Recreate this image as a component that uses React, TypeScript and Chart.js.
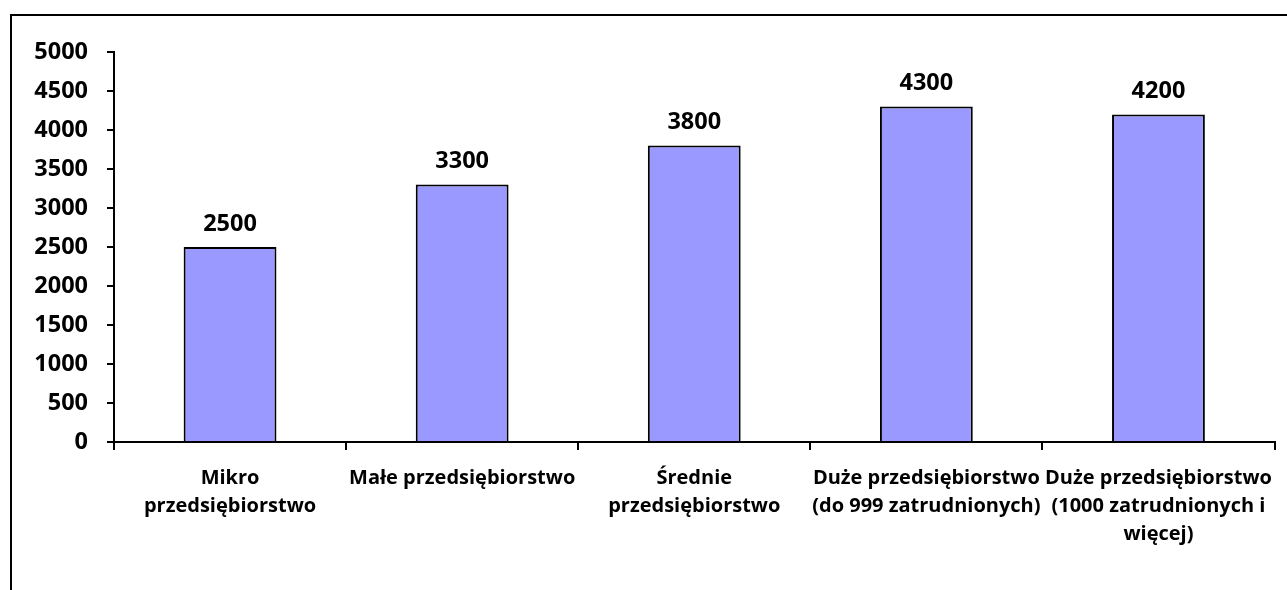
import React, { useEffect, useRef } from "react";
import { Chart, registerables } from "chart.js";

Chart.register(...registerables);

const categories: string[][] = [
  ["Mikro", "przedsiębiorstwo"],
  ["Małe przedsiębiorstwo"],
  ["Średnie", "przedsiębiorstwo"],
  ["Duże przedsiębiorstwo", "(do 999 zatrudnionych)"],
  ["Duże przedsiębiorstwo", "(1000 zatrudnionych i", "więcej)"],
];
const values: number[] = [2500, 3300, 3800, 4300, 4200];
const yTicks: number[] = [0, 500, 1000, 1500, 2000, 2500, 3000, 3500, 4000, 4500, 5000];

const FONT = "'Open Sans', Lato, 'DejaVu Sans', sans-serif";

const framePlugin = {
  id: "frame",
  beforeDraw(chart: any) {
    const ctx = chart.ctx;
    ctx.save();
    ctx.strokeStyle = "#000";
    ctx.lineWidth = 2;
    ctx.beginPath();
    ctx.moveTo(11, chart.height + 5);
    ctx.lineTo(11, 15);
    ctx.lineTo(chart.width + 5, 15);
    ctx.stroke();
    ctx.restore();
  },
};

const labelsPlugin = {
  id: "valueLabels",
  afterDatasetsDraw(chart: any) {
    const ctx = chart.ctx;
    const meta = chart.getDatasetMeta(0);
    ctx.save();
    ctx.font = `bold 23.5px ${FONT}`;
    ctx.fillStyle = "#000";
    ctx.textAlign = "center";
    ctx.textBaseline = "middle";
    meta.data.forEach((bar: any, i: number) => {
      ctx.fillText(String(values[i]), bar.x, bar.y - 23);
    });
    ctx.restore();
  },
};

export default function App() {
  const ref = useRef<HTMLCanvasElement | null>(null);
  useEffect(() => {
    document.body.style.margin = "0";
    if (!ref.current) return;
    const chart = new Chart(ref.current, {
      type: "bar",
      data: {
        labels: categories,
        datasets: [
          {
            data: values,
            backgroundColor: "#9999FF",
            borderColor: "#000",
            borderWidth: 2,
            barPercentage: 0.4,
            categoryPercentage: 1,
          },
        ],
      },
      options: {
        animation: false,
        responsive: false,
        layout: { padding: { top: 52, right: 11, left: 0, bottom: 0 } },
        plugins: { legend: { display: false }, tooltip: { enabled: false } },
        scales: {
          x: {
            offset: true,
            grid: {
              offset: true,
              drawOnChartArea: false,
              tickLength: 8,
              color: "#000",
              lineWidth: 2,
            },
            border: { display: true, color: "#000", width: 2 },
            ticks: {
              color: "#000",
              font: { family: FONT, size: 20, weight: "bold", lineHeight: 1.4 },
              padding: 14,
              maxRotation: 0,
              autoSkip: false,
            },
            afterFit(scale: any) {
              scale.height = 148;
            },
          },
          y: {
            min: 0,
            max: 5000,
            afterBuildTicks(scale: any) {
              scale.ticks = yTicks.map((v) => ({ value: v }));
            },
            grid: {
              drawOnChartArea: false,
              tickLength: 7,
              color: "#000",
              lineWidth: 2,
            },
            border: { display: true, color: "#000", width: 2 },
            ticks: {
              color: "#000",
              font: { family: FONT, size: 23.5, weight: "bold" },
              padding: 19,
              callback: (v: any) => String(v),
            },
            afterFit(scale: any) {
              scale.width = 114;
            },
          },
        },
      },
      plugins: [framePlugin, labelsPlugin],
    });
    return () => chart.destroy();
  }, []);
  return (
    <div style={{ width: 1287, height: 590, background: "#fff" }}>
      <canvas ref={ref} width={1287} height={590} style={{ display: "block" }} />
    </div>
  );
}
